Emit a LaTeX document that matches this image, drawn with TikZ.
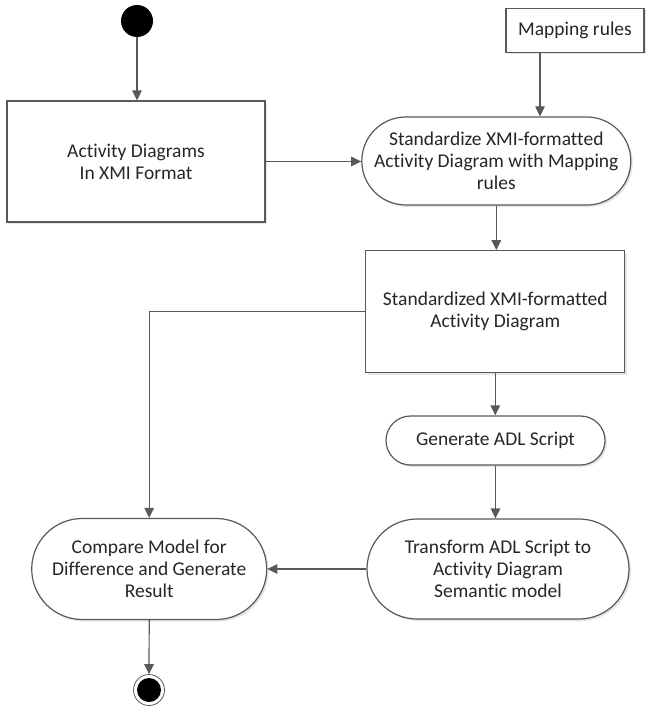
\documentclass[tikz,border=0pt]{standalone}
\usepackage{fontspec}
\setmainfont[Ligatures={NoCommon}]{Carlito}
\usetikzlibrary{arrows.meta,shapes.misc,shadows}
\definecolor{linegray}{HTML}{595959}
\definecolor{textgray}{HTML}{262626}
\begin{document}
\begin{tikzpicture}[x=1pt,y=-1pt,
  every node/.style={font=\fontsize{19.5pt}{22pt}\selectfont, text=textgray, align=center, inner sep=0pt},
  shade/.style={drop shadow={shadow xshift=2pt, shadow yshift=-2pt, opacity=1, fill=black!10}},
  actbox/.style={rectangle, draw=linegray, line width=1.2pt, fill=white, shade},
  actround/.style={rounded rectangle, draw=linegray, line width=1.2pt, fill=white, shade},
  line/.style={draw=linegray, line width=1.2pt},
  flow/.style={line, -{Triangle[width=9.5pt,length=10pt]}}]

\useasboundingbox (0,0) rectangle (646,706);

% initial and final states
\node[circle, fill=black, minimum size=32pt] (start) at (137,21) {};
\node[circle, draw=linegray, line width=0.8pt, fill=white, minimum size=31pt] (stop) at (149,690) {};
\fill[black] (stop.center) circle[radius=12pt];

% actions and data
\node[actbox, minimum width=258pt, minimum height=121pt] (adxmi) at (136,161.5)
  {Activity Diagrams\\In XMI Format};
\node[actbox, minimum width=138pt, minimum height=44pt] (maprules) at (575,30.5)
  {Mapping rules};
\node[actround, minimum width=269pt, minimum height=88pt] (std) at (496.3,161)
  {Standardize XMI-formatted\\Activity Diagram with Mapping\\rules};
\node[actbox, minimum width=259pt, minimum height=122pt] (stdad) at (495.3,311.7)
  {Standardized XMI-formatted\\Activity Diagram};
\node[actround, minimum width=219pt, minimum height=49pt] (gen) at (495.5,440.5)
  {Generate ADL Script};
\node[actround, minimum width=262pt, minimum height=100pt] (trans) at (498,569)
  {Transform ADL Script to\\Activity Diagram\\Semantic model};
\node[actround, minimum width=235pt, minimum height=101pt] (cmp) at (149.2,569)
  {Compare Model for\\Difference and Generate\\Result};

% control flows
\draw[flow] (start) -- (start |- adxmi.north);
\draw[flow] ([xshift=-35pt]maprules.south) -- ([xshift=-35pt]maprules.south |- std.north);
\draw[flow] (adxmi.east) -- (adxmi.east -| std.west);
\draw[flow] (std.south) -- (std.south |- stdad.north);
\draw[flow] (stdad.west) -- (cmp.north |- stdad.west) -- (cmp.north);
\draw[flow] (stdad.south) -- (stdad.south |- gen.north);
\draw[flow] (gen.south) -- (gen.south |- trans.north);
\draw[flow] (trans.west) -- (trans.west -| cmp.east);
\draw[flow] (cmp.south) -- (stop.north);
\end{tikzpicture}
\end{document}
